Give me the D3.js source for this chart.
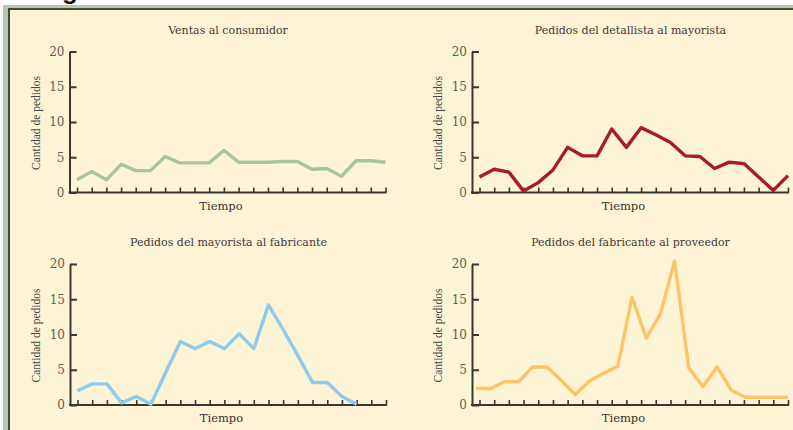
<!DOCTYPE html>
<html>
<head>
<meta charset="utf-8">
<script src="https://cdn.jsdelivr.net/npm/d3@7"></script>
<style>
  body { margin: 0; background: #fff; }
  text { font-family: "DejaVu Serif", serif; }
</style>
</head>
<body>
<div id="container"></div>
<script>
const W = 793;
const H = 430;

// datos
const titulos = ['Ventas al consumidor', 'Pedidos del detallista al mayorista',
  'Pedidos del mayorista al fabricante', 'Pedidos del fabricante al proveedor'];
const ventasConsumidor = [1.8, 3.0, 1.8, 4.0, 3.1, 3.1, 5.1, 4.2, 4.2, 4.2, 6.0,
  4.3, 4.3, 4.3, 4.4, 4.4, 3.3, 3.4, 2.3, 4.5, 4.5, 4.3];
const detallistaMayorista = [2.2, 3.3, 2.9, 0.2, 1.4, 3.2, 6.4, 5.2, 5.2, 9.0, 6.4,
  9.2, 8.2, 7.1, 5.2, 5.1, 3.4, 4.3, 4.1, 2.2, 0.3, 2.4];
const mayoristaFabricante = [2.0, 3.0, 3.0, 0.3, 1.2, 0.1, 4.6, 9.0, 8.0, 9.0, 8.0,
  10.1, 8.0, 14.2, 10.7, 7.0, 3.2, 3.2, 1.2, 0.1];
const fabricanteProveedor = [2.4, 2.3, 3.3, 3.3, 5.4, 5.4, 3.5, 1.5, 3.4, 4.5, 5.5,
  15.3, 9.5, 12.9, 20.4, 5.3, 2.6, 5.4, 2.1, 1.1, 1.1, 1.1, 1.1];
const yTicks = [0, 5, 10, 15, 20];
const periodos = d3.range(22);

const series = [ventasConsumidor, detallistaMayorista, mayoristaFabricante, fabricanteProveedor];
const colores = ['#a9c59c', '#a81a30', '#8fcbec', '#fbc469'];
// pasos en x de cada serie (la ultima tiene un punto mas)
const pasos = [21, 21, 21, 22];

// posicion de cada panel: x del eje y, y del cero
const panelX = [69.5, 472, 70, 472];
const panelY = [192.5, 192.5, 405, 405];
const plotW = 317;
const plotH = 141;

let svg = d3.select('#container')
  .append('svg')
  .attr('width', W)
  .attr('height', H);

// marco
svg.append('rect').attr('width', W).attr('height', H).attr('fill', '#fff');
svg.append('rect').attr('x', 3).attr('y', 5).attr('width', W).attr('height', H).attr('fill', '#b7c7a9');
svg.append('rect').attr('x', 8).attr('y', 8).attr('width', W).attr('height', H).attr('fill', '#3e4a3c');
svg.append('rect').attr('x', 10).attr('y', 10).attr('width', W).attr('height', H).attr('fill', '#fdf4d6');

// resto del titulo cortado arriba
svg.append('text')
  .attr('x', 62).attr('y', -1)
  .style('font-family', 'Liberation Sans, sans-serif')
  .style('font-weight', 'bold')
  .style('font-size', '26px')
  .attr('fill', '#111')
  .text('g');

const axisColor = '#3b3631';

for (let i = 0; i < 4; i++) {
  let x0 = panelX[i];
  let y0 = panelY[i];
  let g = svg.append('g').attr('transform', 'translate(' + x0 + ',' + y0 + ')');

  let y = d3.scaleLinear().domain([0, 20]).range([0, -plotH]);
  let xTick = d3.scaleLinear().domain([0, 21]).range([7.5, plotW - 1]);
  let xData;
  if (pasos[i] == 21) {
    xData = xTick;
  } else {
    xData = d3.scaleLinear().domain([0, pasos[i]]).range([4, plotW - 1]);
  }

  // eje y
  let yAxis = d3.axisLeft(y)
    .tickValues(yTicks)
    .tickSizeInner(-7)
    .tickSizeOuter(0)
    .tickPadding(5);
  let ya = g.append('g').call(yAxis);
  ya.select('.domain').attr('stroke', axisColor).attr('stroke-width', 2);
  ya.selectAll('.tick line').attr('stroke', axisColor).attr('stroke-width', 2);
  ya.selectAll('.tick text')
    .attr('fill', '#625c57')
    .style('font-size', '12px')
    .style('font-family', 'DejaVu Serif, serif');

  // eje x
  let xAxis = d3.axisBottom(xTick)
    .tickValues(periodos)
    .tickSizeInner(-5)
    .tickSizeOuter(0)
    .tickFormat('');
  let xa = g.append('g').call(xAxis);
  xa.select('.domain').remove();
  xa.selectAll('.tick line').attr('stroke', axisColor).attr('stroke-width', 1.6);
  g.append('line')
    .attr('x1', -1).attr('x2', plotW)
    .attr('y1', 0).attr('y2', 0)
    .attr('stroke', axisColor)
    .attr('stroke-width', 2);

  // linea
  let line = d3.line()
    .x((d, k) => xData(k))
    .y(d => y(d));
  g.append('path')
    .datum(series[i])
    .attr('d', line)
    .attr('fill', 'none')
    .attr('stroke', colores[i])
    .attr('stroke-width', 3.4)
    .attr('stroke-linejoin', 'round');

  // textos
  g.append('text')
    .attr('x', plotW / 2)
    .attr('y', -plotH - 18)
    .attr('text-anchor', 'middle')
    .attr('fill', '#3d3a36')
    .style('font-size', '11px')
    .text(titulos[i]);

  g.append('text')
    .attr('x', plotW / 2 - 7)
    .attr('y', 17)
    .attr('text-anchor', 'middle')
    .attr('fill', '#3a3632')
    .style('font-size', '11.5px')
    .text('Tiempo');

  g.append('text')
    .attr('transform', 'translate(-30,' + (-plotH / 2 + 1) + ') rotate(-90)')
    .attr('text-anchor', 'middle')
    .attr('fill', '#4a4642')
    .style('font-family', 'Liberation Serif, serif')
    .style('font-size', '11.5px')
    .text('Cantidad de pedidos');
}
</script>
</body>
</html>
